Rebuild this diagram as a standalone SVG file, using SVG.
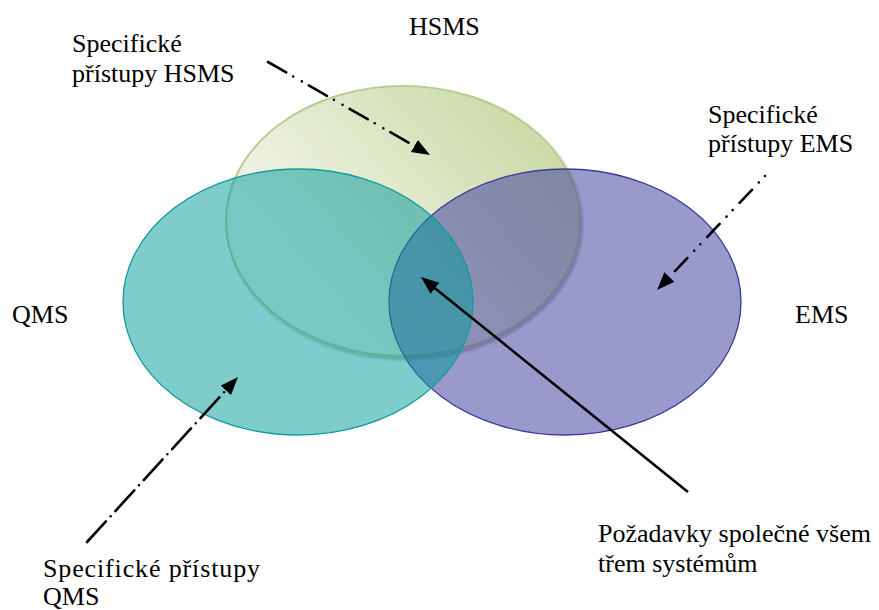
<svg xmlns="http://www.w3.org/2000/svg" width="879" height="610" viewBox="0 0 879 610">
<style>
.t{font-family:"Liberation Serif","Times New Roman","DejaVu Serif",Times,serif;font-size:26px;fill:#000}
.arr{fill:none;stroke:#000;stroke-width:2.6}
.dd{stroke-linecap:round}
</style>
<defs>
<linearGradient id="gH" x1="0.15" y1="0.6" x2="0.9" y2="0.1">
<stop offset="0" stop-color="#f2f5ea"/>
<stop offset="1" stop-color="#cad9a4"/>
</linearGradient>
<filter id="sh" x="-10%" y="-10%" width="120%" height="125%">
<feDropShadow dx="2" dy="3" stdDeviation="1.5" flood-color="#000" flood-opacity="0.28"/>
</filter>
<marker id="ah" markerUnits="userSpaceOnUse" markerWidth="20" markerHeight="16" refX="6" refY="7" orient="auto">
<path d="M0,0 L18,7 L0,14 z" fill="#000"/>
</marker>
</defs>
<g id="hsms">
<ellipse cx="403" cy="221" rx="177" ry="135" fill="url(#gH)" stroke="#b6ce8c" stroke-width="2" filter="url(#sh)"/>
</g>
<g id="ems">
<ellipse cx="565" cy="302" rx="176" ry="133" fill="#333399" fill-opacity="0.5" stroke="#3a3a9c" stroke-width="1.3"/>
</g>
<g id="qms">
<ellipse cx="298" cy="302" rx="175" ry="133" fill="#009999" fill-opacity="0.5" stroke="#139a9a" stroke-width="1.3"/>
</g>
<g id="connectors">
<path class="arr dd" d="M268,62 L419.6,149" stroke-dasharray="21 8 0 10 0 8" marker-end="url(#ah)"/>
<path class="arr dd" d="M765,176 L665.3,281.3" stroke-dasharray="0 9 0 10 18 10" marker-end="url(#ah)"/>
<path class="arr dd" d="M87,542 L229.9,385.9" stroke-dasharray="28 7 0 7" marker-end="url(#ah)"/>
<path class="arr" d="M688,492 L430.3,284.5" marker-end="url(#ah)"/>
</g>
<g id="labels" font-family="Liberation Serif, Times New Roman, serif">
<text class="t" x="409" y="35">HSMS</text>
<text class="t" x="12" y="323">QMS</text>
<text class="t" x="795" y="323">EMS</text>
<text class="t" x="72" y="52">Specifické</text>
<text class="t" x="72" y="82">přístupy HSMS</text>
<text class="t" x="708" y="123">Specifické</text>
<text class="t" x="708" y="152">přístupy EMS</text>
<text class="t" x="43" y="577" textLength="217" lengthAdjust="spacing">Specifické přístupy</text>
<text class="t" x="43" y="605">QMS</text>
<text class="t" x="598" y="542">Požadavky společné všem</text>
<text class="t" x="598" y="572">třem systémům</text>
</g>
</svg>
